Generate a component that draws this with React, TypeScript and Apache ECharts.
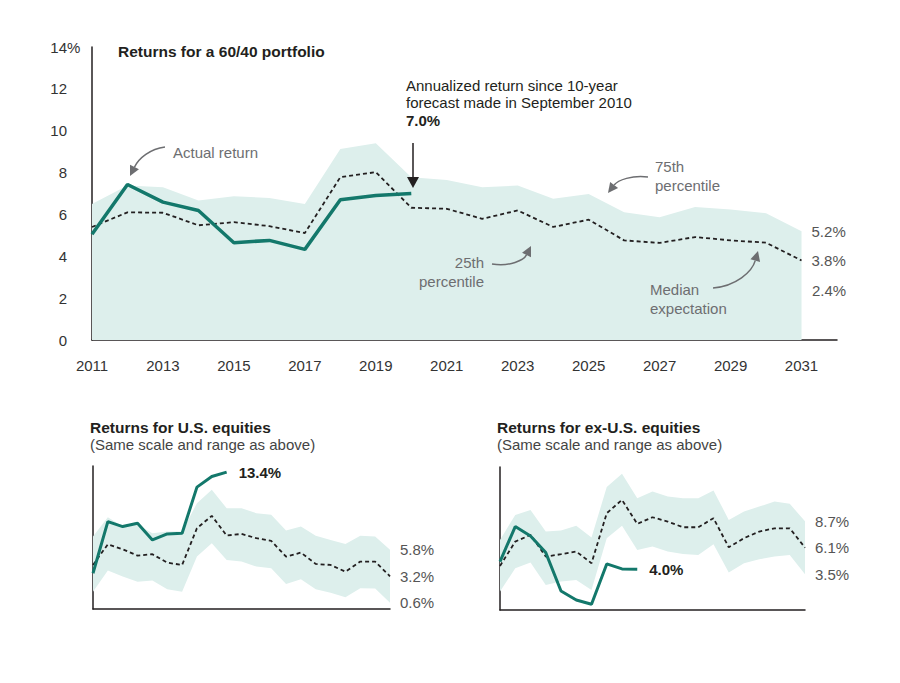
import React, { useEffect, useRef } from "react";
import * as echarts from "echarts";

const mainYears = ["2011","2012","2013","2014","2015","2016","2017","2018","2019","2020","2021","2022","2023","2024","2025","2026","2027","2028","2029","2030","2031","2032"];
const smallYears = ["2011","2012","2013","2014","2015","2016","2017","2018","2019","2020","2021","2022","2023","2024","2025","2026","2027","2028","2029","2030","2031"];
const yTicks = [0, 2, 4, 6, 8, 10, 12, 14];

const mainActual = [5.05, 7.43, 6.59, 6.19, 4.65, 4.76, 4.33, 6.7, 6.9, 7.0];
const mainMedian = [5.4, 6.1, 6.08, 5.48, 5.63, 5.44, 5.11, 7.78, 8.02, 6.32, 6.27, 5.79, 6.19, 5.4, 5.75, 4.76, 4.64, 4.92, 4.76, 4.65, 3.8];
const main75 = [6.5, 7.38, 7.3, 6.67, 6.87, 6.79, 6.5, 9.13, 9.4, 7.78, 7.65, 7.3, 7.38, 6.75, 6.98, 6.11, 5.87, 6.35, 6.24, 6.06, 5.2];
const main25End = 2.4;

const usActual = [3.5, 8.56, 8.07, 8.4, 6.76, 7.35, 7.42, 11.93, 12.97, 13.4];
const usMedian = [4.31, 6.34, 5.85, 5.23, 5.36, 4.54, 4.31, 7.91, 9.12, 7.19, 7.35, 6.93, 6.67, 5.13, 5.52, 4.41, 4.31, 3.66, 4.64, 4.64, 3.2];
const us75 = [7.09, 8.99, 8.07, 8.24, 7.42, 7.58, 7.58, 10.36, 11.67, 9.87, 9.87, 9.38, 9.22, 7.68, 8.07, 7.16, 6.76, 6.37, 7.16, 7.09, 5.8];
const us25 = [1.7, 3.76, 3.17, 2.68, 2.78, 1.93, 1.7, 5.13, 6.44, 4.8, 4.64, 4.15, 3.99, 2.45, 2.91, 1.93, 1.6, 1.15, 2.03, 2.0, 0.6];

const exActual = [4.74, 8.17, 7.25, 5.62, 1.86, 0.98, 0.56, 4.51, 4.02, 4.0];
const exMedian = [4.31, 6.7, 7.35, 5.23, 5.46, 5.72, 4.58, 9.48, 10.78, 8.43, 9.08, 8.66, 8.1, 8.1, 8.99, 6.14, 7.03, 7.68, 8.0, 8.0, 6.1];
const ex75 = [6.86, 9.31, 9.8, 7.68, 7.78, 8.24, 7.09, 12.03, 13.33, 10.95, 11.6, 11.1, 10.95, 10.95, 11.7, 8.82, 9.64, 10.13, 10.62, 10.39, 8.7];
const ex25 = [1.8, 4.08, 4.64, 2.45, 2.78, 2.94, 1.96, 7.03, 8.24, 5.88, 6.21, 5.72, 5.49, 5.39, 6.44, 3.66, 4.58, 4.97, 5.23, 5.39, 3.5];

const TEAL = "#13786b";
const BAND = "#ddefec";
const INK = "#231f20";
const GRAY = "#6d6e71";
const LABEL = "#555";
const FONT = "'Liberation Sans', Arial, Helvetica, sans-serif";
const FS = 15;

function pct(v: number) {
  return v.toFixed(1) + "%";
}

function arrow(p0: number[], c1: number[], c2: number[], p1: number[], color: string, head = 10, half = 5) {
  const dx = p1[0] - c2[0];
  const dy = p1[1] - c2[1];
  const len = Math.sqrt(dx * dx + dy * dy) || 1;
  const ux = dx / len, uy = dy / len;
  const bx = p1[0] - ux * head, by = p1[1] - uy * head;
  const px = -uy, py = ux;
  return [
    {
      type: "bezierCurve",
      z: 100,
      shape: { x1: p0[0], y1: p0[1], cpx1: c1[0], cpy1: c1[1], cpx2: c2[0], cpy2: c2[1], x2: bx, y2: by },
      style: { stroke: color, lineWidth: 1.5, fill: null },
      silent: true,
    },
    {
      type: "polygon",
      z: 100,
      shape: { points: [[p1[0], p1[1]], [bx + px * half, by + py * half], [bx - px * half, by - py * half]] },
      style: { fill: color },
      silent: true,
    },
  ];
}

function txt(x: number, y: number, text: string, opts: any = {}) {
  return {
    type: "text",
    x,
    y,
    z: 100,
    silent: true,
    style: {
      text,
      fill: opts.fill || GRAY,
      fontSize: opts.fontSize || FS,
      fontWeight: opts.fontWeight || "normal",
      fontFamily: FONT,
      align: opts.align || "left",
      verticalAlign: "middle",
    },
  };
}

function smallAxes(gridIndex: number) {
  return {
    x: {
      type: "category",
      gridIndex,
      data: smallYears,
      boundaryGap: false,
      axisLine: { show: true, lineStyle: { color: INK, width: 1.5 } },
      axisTick: { show: false },
      axisLabel: { show: false },
      splitLine: { show: false },
    },
    y: {
      type: "value",
      gridIndex,
      min: 0,
      max: 14,
      interval: 2,
      axisLine: { show: true, lineStyle: { color: INK, width: 1.5 } },
      axisTick: { show: false },
      axisLabel: { show: false },
      splitLine: { show: false },
    },
  };
}

function endLbl(formatter: (p: any) => string, opts: any = {}) {
  return {
    show: true,
    distance: opts.distance ?? 10,
    formatter,
    color: opts.color || LABEL,
    fontSize: opts.fontSize || FS,
    fontWeight: opts.fontWeight || "normal",
    fontFamily: FONT,
  };
}

function bandSeries(idx: number, lower: number[], upper: number[], stackName: string) {
  return [
    {
      type: "line",
      xAxisIndex: idx,
      yAxisIndex: idx,
      stack: stackName,
      data: lower,
      showSymbol: false,
      symbol: "none",
      lineStyle: { opacity: 0, width: 0 },
      endLabel: endLbl(() => pct(lower[lower.length - 1])),
      z: 1,
    },
    {
      type: "line",
      xAxisIndex: idx,
      yAxisIndex: idx,
      stack: stackName,
      data: upper.map((u, i) => +(u - lower[i]).toFixed(3)),
      showSymbol: false,
      symbol: "none",
      lineStyle: { opacity: 0, width: 0 },
      areaStyle: { color: BAND, opacity: 1 },
      endLabel: endLbl(() => pct(upper[upper.length - 1])),
      z: 1,
    },
  ];
}

function medianSeries(idx: number, data: number[]) {
  return {
    type: "line",
    xAxisIndex: idx,
    yAxisIndex: idx,
    data,
    showSymbol: false,
    symbol: "none",
    lineStyle: { color: INK, width: 1.8, type: [4, 3] },
    endLabel: endLbl(() => pct(data[data.length - 1])),
    z: 3,
  };
}

function actualSeries(idx: number, data: number[], width: number, label: boolean) {
  return {
    type: "line",
    xAxisIndex: idx,
    yAxisIndex: idx,
    data,
    showSymbol: false,
    symbol: "none",
    lineStyle: { color: TEAL, width },
    endLabel: label
      ? endLbl(() => pct(data[data.length - 1]), { color: INK, fontWeight: "bold", distance: 12 })
      : { show: false },
    z: 4,
  };
}

export default function App() {
  const ref = useRef<HTMLDivElement>(null);
  useEffect(() => {
    if (!ref.current) return;
    const chart = echarts.init(ref.current, undefined, { renderer: "svg" });
    const us = smallAxes(1);
    const ex = smallAxes(2);
    const option: any = {
      animation: false,
      backgroundColor: "#ffffff",
      textStyle: { fontFamily: FONT },
      grid: [
        { left: 92, top: 47, width: 745, height: 293, containLabel: false },
        { left: 93, top: 466, width: 297, height: 143, containLabel: false },
        { left: 500, top: 467, width: 305, height: 143, containLabel: false },
      ],
      xAxis: [
        {
          type: "category",
          gridIndex: 0,
          data: mainYears,
          boundaryGap: false,
          axisLine: { show: true, lineStyle: { color: INK, width: 1.5 } },
          axisTick: { show: false },
          axisLabel: { interval: 1, color: "#333", fontSize: FS, margin: 18, fontFamily: FONT },
          splitLine: { show: false },
        },
        us.x,
        ex.x,
      ],
      yAxis: [
        {
          type: "value",
          gridIndex: 0,
          min: 0,
          max: 14,
          interval: 2,
          axisLine: { show: true, lineStyle: { color: INK, width: 1.5 } },
          axisTick: { show: false },
          axisLabel: {
            color: "#333",
            fontSize: FS,
            margin: 25,
            fontFamily: FONT,
            formatter: (v: number) => (yTicks.includes(v) ? String(v) : ""),
          },
          splitLine: { show: false },
        },
        us.y,
        ex.y,
      ],
      series: [
        {
          type: "line",
          xAxisIndex: 0,
          yAxisIndex: 0,
          data: main75,
          showSymbol: false,
          symbol: "none",
          lineStyle: { opacity: 0, width: 0 },
          areaStyle: { color: BAND, opacity: 1 },
          endLabel: endLbl(() => pct(main75[main75.length - 1])),
          z: 1,
        },
        medianSeries(0, mainMedian),
        actualSeries(0, mainActual, 3.5, false),
        ...bandSeries(1, us25, us75, "usBand"),
        medianSeries(1, usMedian),
        actualSeries(1, usActual, 3, true),
        ...bandSeries(2, ex25, ex75, "exBand"),
        medianSeries(2, exMedian),
        actualSeries(2, exActual, 3, true),
      ],
      graphic: [
        txt(67, 47, "%", { fill: "#333" }),
        txt(118, 51, "Returns for a 60/40 portfolio", { fill: INK, fontWeight: "bold", fontSize: 15.5 }),
        txt(173, 152, "Actual return"),
        ...arrow([165, 147], [150, 149], [139, 158], [130, 176], GRAY),
        txt(406, 85, "Annualized return since 10-year", { fill: INK }),
        txt(406, 102, "forecast made in September 2010", { fill: INK }),
        txt(406, 120, pct(mainActual[mainActual.length - 1]), { fill: INK, fontWeight: "bold" }),
        ...arrow([413, 143], [413, 150], [413, 170], [413, 188], INK, 11, 6),
        txt(655, 166, "75th"),
        txt(655, 185, "percentile"),
        ...arrow([648, 177], [632, 175], [618, 180], [608, 193], GRAY),
        txt(484, 262, "25th", { align: "right" }),
        txt(484, 281, "percentile", { align: "right" }),
        ...arrow([492, 264], [510, 267], [524, 260], [531, 246], GRAY),
        txt(650, 289, "Median"),
        txt(650, 308, "expectation"),
        ...arrow([713, 288], [736, 286], [752, 272], [758, 251], GRAY),
        txt(812, 290, pct(main25End), { fill: LABEL }),
        txt(90, 427, "Returns for U.S. equities", { fill: INK, fontWeight: "bold", fontSize: 15.5 }),
        txt(90, 444, "(Same scale and range as above)", { fill: "#444" }),
        txt(497, 427, "Returns for ex-U.S. equities", { fill: INK, fontWeight: "bold", fontSize: 15.5 }),
        txt(497, 444, "(Same scale and range as above)", { fill: "#444" }),
      ],
    };
    chart.setOption(option);
    return () => chart.dispose();
  }, []);
  return <div ref={ref} style={{ width: 900, height: 683, position: "absolute", left: 0, top: 0 }} />;
}
